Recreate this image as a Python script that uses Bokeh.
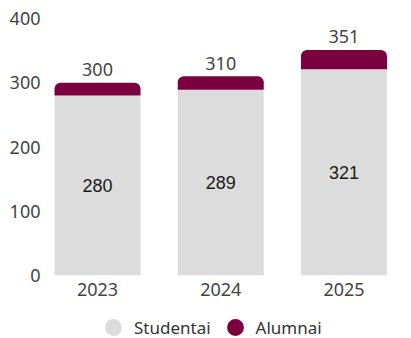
from bokeh.plotting import figure
from bokeh.layouts import column
from bokeh.models import ColumnDataSource, Range1d, FixedTicker, Legend, LegendItem
from bokeh.core.properties import value
from bokeh.embed import file_html
from bokeh.resources import INLINE

years = ["2023", "2024", "2025"]
studentai = [280, 289, 321]
alumnai = [20, 21, 30]
totals = [300, 310, 351]
y_ticks = [0, 100, 200, 300, 400]
series = ["Studentai", "Alumnai"]

GRAY = "#dcdcdc"
MAROON = "#7a0040"

x = list(range(len(years)))
top = [s + a for s, a in zip(studentai, alumnai)]
src = ColumnDataSource(dict(
    x=x,
    stud=studentai,
    top=top,
    mid=[s / 2 for s in studentai],
    stud_lbl=[str(s) for s in studentai],
    tot_lbl=[str(t) for t in totals],
))

p = figure(width=411, height=307, output_backend="svg", toolbar_location=None,
           x_range=Range1d(-0.414, 2.548), y_range=Range1d(0, 400),
           min_border_left=46, min_border_right=0, min_border_top=18,
           min_border_bottom=32)

p.vbar(x="x", bottom=0, top="stud", width=0.698, source=src,
       fill_color=GRAY, line_color=None)
p.vbar(x="x", bottom="stud", top="top", width=0.698, source=src,
       fill_color=MAROON, line_color=None, border_radius=(6, 6, 0, 0))

p.text(x="x", y="mid", text="stud_lbl", source=src, text_align="center",
       text_baseline="middle", text_font=value("Liberation Sans"),
       text_font_size="18px", text_color="#1a1a1a")
p.text(x="x", y="top", text="tot_lbl", source=src, text_align="center",
       text_baseline="middle", y_offset=-13, text_font=value("Noto Sans"),
       text_font_size="18px", text_color="#444444")

p.xaxis.ticker = FixedTicker(ticks=x)
p.xaxis.major_label_overrides = {i: y for i, y in zip(x, years)}
p.yaxis.ticker = FixedTicker(ticks=y_ticks)
for ax in (p.xaxis, p.yaxis):
    ax.axis_line_color = None
    ax.major_tick_line_color = None
    ax.minor_tick_line_color = None
    ax.major_tick_out = 0
    ax.major_tick_in = 0
    ax.minor_tick_out = 0
    ax.major_label_text_font = "Noto Sans"
    ax.major_label_text_font_size = "18px"
    ax.major_label_text_color = "#444444"
p.xaxis.major_label_standoff = 7
p.yaxis.major_label_standoff = 6
p.grid.visible = False
p.outline_line_color = None

# legend strip
p2 = figure(width=411, height=31, output_backend="svg", toolbar_location=None,
            x_range=Range1d(0, 1), y_range=Range1d(0, 1),
            x_axis_location=None, y_axis_location=None, min_border=0)
p2.grid.visible = False
p2.outline_line_color = None
# legend swatches (data lies outside this strip's ranges, so only the legend shows)
r1 = p2.scatter(x=x, y=studentai, size=10, fill_color=GRAY, line_color=None)
r2 = p2.scatter(x=x, y=top, size=10, fill_color=MAROON, line_color=None)
legend = Legend(items=[LegendItem(label=series[0], renderers=[r1]),
                       LegendItem(label=series[1], renderers=[r2])],
                location=(46, -10), orientation="horizontal",
                glyph_width=42, glyph_height=42, label_standoff=-5, spacing=3,
                padding=0, margin=0, border_line_color=None,
                background_fill_alpha=0, label_text_font="Noto Sans",
                label_text_font_size="17px", label_text_color="#333333")
p2.add_layout(legend)

open("out.html", "w").write(file_html(column(p, p2, spacing=0), INLINE))
